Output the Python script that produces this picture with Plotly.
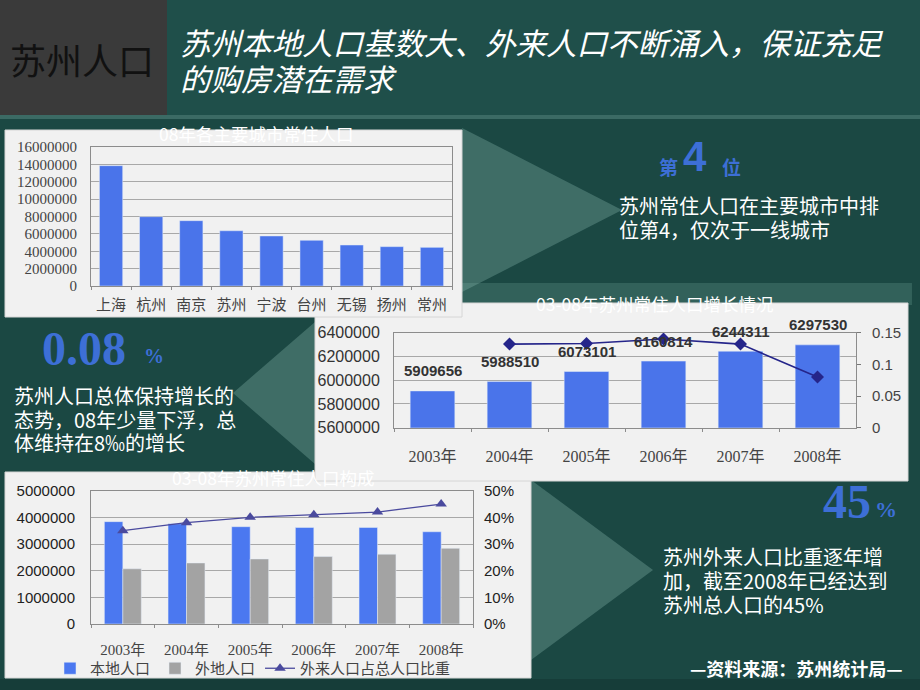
import plotly.graph_objects as go

# ---------------- data ----------------
cities = ['上海', '杭州', '南京', '苏州', '宁波', '台州', '无锡', '扬州', '常州']
city_pop = [13850000, 7980000, 7520000, 6360000, 5760000, 5260000, 4720000, 4530000, 4450000]

years = ['2003年', '2004年', '2005年', '2006年', '2007年', '2008年']
total_pop = [5909656, 5988510, 6073101, 6160814, 6244311, 6297530]
growth_years = ['2004年', '2005年', '2006年', '2007年', '2008年']
growth_rate = [0.132, 0.133, 0.140, 0.132, 0.080]

local_pop = [3840000, 3760000, 3650000, 3620000, 3620000, 3460000]
migrant_pop = [2070000, 2290000, 2440000, 2530000, 2620000, 2840000]
migrant_share = [0.35, 0.38, 0.40, 0.41, 0.42, 0.45]

W, H = 920, 690
def X(p):
    return p / W
def Y(p):
    return 1 - p / H

BG = '#1b4843'
HEAD = '#1f4f4a'
BOX = '#f1f1f1'
BLUE = '#4a74ea'
GREY = '#a3a3a3'
HL = '#3d6fd6'
SERIF = 'Liberation Serif, Noto Sans CJK SC'
SANS = 'Liberation Sans, Noto Sans CJK SC'
CJK = 'Noto Sans CJK SC'

fig = go.Figure()

# chart 1
fig.add_trace(go.Bar(x=cities, y=city_pop, marker_color=BLUE, showlegend=False,
                     xaxis='x', yaxis='y'))
# chart 2
fig.add_trace(go.Bar(x=years, y=total_pop, marker_color=BLUE, showlegend=False,
                     xaxis='x2', yaxis='y2'))
fig.add_trace(go.Scatter(x=growth_years, y=growth_rate, mode='lines+markers',
                         line=dict(color='#25258a', width=1.6),
                         marker=dict(symbol='diamond', size=10, color='#25258a'),
                         showlegend=False, xaxis='x2', yaxis='y3'))
# chart 3
fig.add_trace(go.Bar(x=years, y=local_pop, name='本地人口', marker_color='#4b78f0',
                     xaxis='x3', yaxis='y4'))
fig.add_trace(go.Bar(x=years, y=migrant_pop, name='外地人口', marker_color=GREY,
                     xaxis='x3', yaxis='y4'))
fig.add_trace(go.Scatter(x=years, y=migrant_share, name='外来人口占总人口比重',
                         mode='lines+markers',
                         line=dict(color='#4a4a9e', width=1.3),
                         marker=dict(symbol='triangle-up', size=10, color='#4a4a9e'),
                         xaxis='x3', yaxis='y5'))

# data labels for chart 2
annotations = []
for yr, v in zip(years, total_pop):
    annotations.append(dict(x=yr, y=v, xref='x2', yref='y2', text=str(v), showarrow=False,
                            yshift=20, font=dict(family=SANS, size=15, color='#333333', weight='bold')))

grid = '#a8a8a8'
frame = '#8c8c8c'

def xcat(domain, anchor, size, fam, standoff):
    return dict(domain=domain, anchor=anchor, type='category', showgrid=False,
                showline=True, mirror=True, linecolor=frame, linewidth=1,
                ticks='outside', tickson='boundaries', ticklen=3, tickcolor=frame,
                tickfont=dict(family=fam, size=size, color='#444444'),
                ticklabelstandoff=standoff, fixedrange=True)

def yax(domain, anchor, rng, dtick, fam, size, standoff, color='#333333', fmt='d', weight='normal'):
    return dict(domain=domain, anchor=anchor, range=rng, dtick=dtick, tickformat=fmt,
                showgrid=True, gridcolor=grid, gridwidth=1,
                showline=True, mirror=True, linecolor=frame, linewidth=1,
                ticks='', zeroline=False,
                tickfont=dict(family=fam, size=size, color=color, weight=weight),
                ticklabelstandoff=standoff, fixedrange=True)

layout = dict(
    width=W, height=H, margin=dict(l=0, r=0, t=0, b=0, autoexpand=False),
    paper_bgcolor=BG, plot_bgcolor=BOX,
    barmode='group', bargap=0.42, bargroupgap=0.0,
    xaxis=xcat([X(91), X(452)], 'y', 15, SERIF, 5),
    yaxis=yax([Y(286), Y(147)], 'x', [0, 16000000], 2000000, SERIF, 15, 10, '#444444'),
    xaxis2=xcat([X(394), X(856)], 'y2', 16, SERIF, 14),
    yaxis2=yax([Y(427.7), Y(332.7)], 'x2', [5600000, 6400000], 200000, SANS, 16, 10, '#333333'),
    yaxis3=dict(overlaying='y2', anchor='x2', side='right', range=[0, 0.15], dtick=0.05,
                showgrid=False, zeroline=False, showline=False, ticks='outside', ticklen=4,
                tickcolor='#777777',
                tickfont=dict(family=SANS, size=15, color='#444444'),
                ticklabelstandoff=8, fixedrange=True),
    xaxis3=xcat([X(91), X(473)], 'y4', 15, SERIF, 12),
    yaxis4=yax([Y(624), Y(490.7)], 'x3', [0, 5000000], 1000000, SANS, 15, 12, '#222222'),
    yaxis5=dict(overlaying='y4', anchor='x3', side='right', range=[0, 0.5], dtick=0.1,
                tickformat='.0%', showgrid=False, zeroline=False, showline=False, ticks='',
                tickfont=dict(family=SANS, size=15, color='#222222'),
                ticklabelstandoff=10, fixedrange=True),
    legend=dict(orientation='h', x=X(50), y=Y(652), xanchor='left', yanchor='top',
                bgcolor='rgba(0,0,0,0)', font=dict(family=CJK, size=15, color='#444444'),
                itemwidth=30, traceorder='normal'),
    showlegend=True,
)
fig.update_layout(**layout)

def rect(x0, y0, x1, y1, color, line=None):
    return dict(type='rect', xref='paper', yref='paper', x0=X(x0), x1=X(x1), y0=Y(y1), y1=Y(y0),
                fillcolor=color, line=dict(width=0) if line is None else dict(color=line, width=1),
                layer='below')

def poly(pts, color):
    path = 'M ' + ' L '.join(f'{X(a):.5f},{Y(b):.5f}' for a, b in pts) + ' Z'
    return dict(type='path', xref='paper', yref='paper', path=path, fillcolor=color,
                line=dict(width=0), layer='below')

shapes = [
    rect(167, 0, 920, 115, HEAD),
    rect(0, 0, 167, 115, '#3a3a3a'),
    rect(0, 115, 920, 119, '#3b6a64'),
    poly([(440, 283), (912, 283), (912, 305), (430, 305)], 'rgba(120,170,160,0.25)'),
    poly([(462, 128), (622, 210), (462, 292)], 'rgba(150,195,185,0.30)'),
    poly([(315, 322), (233, 393), (315, 464)], 'rgba(150,195,185,0.30)'),
    poly([(531, 480), (653, 570), (531, 660)], 'rgba(150,195,185,0.30)'),
    rect(5, 472, 531, 678, BOX, '#d6d6d6'),
    rect(315, 303, 908, 481, BOX, '#d6d6d6'),
    rect(5, 130, 462, 317, BOX, '#d6d6d6'),
    rect(0, 679, 920, 690, '#163d39'),
]
fig.update_layout(shapes=shapes)

def txt(x, y, s, size, color='white', fam=CJK, xanchor='left', weight='normal', style='normal'):
    annotations.append(dict(x=X(x), y=Y(y), xref='paper', yref='paper', text=s, showarrow=False,
                            xanchor=xanchor, yanchor='middle',
                            font=dict(family=fam, size=size, color=color, weight=weight, style=style)))

# header
txt(82, 59, '苏州人口', 36, '#111111', xanchor='center')
txt(178, 42, '苏州本地人口基数大、外来人口不断涌入，保证充足', 30.5, style='italic')
txt(178, 78, '的购房潜在需求', 30.5, style='italic')

# chart titles (partly hidden behind the boxes)
txt(256, 133, '08年各主要城市常住人口', 17.5, xanchor='center')
txt(654, 303, '03-08年苏州常住人口增长情况', 17.5, xanchor='center')
txt(273, 477, '03-08年苏州常住人口构成', 17.5, xanchor='center')

# highlight 1
txt(668, 166, '第', 19, HL, xanchor='center', weight='bold')
txt(695, 157, '4', 42, HL, fam='Liberation Sans', xanchor='center', weight='bold')
txt(731, 166, '位', 19, HL, xanchor='center', weight='bold')
txt(617, 205, '苏州常住人口在主要城市中排', 20)
txt(617, 229, '位第4，仅次于一线城市', 20)

# highlight 2
txt(40, 348, '0.08', 48, HL, fam='Liberation Serif', weight='bold')
txt(142, 356, '%', 20, HL, fam='Liberation Serif', weight='bold')
txt(12, 395, '苏州人口总体保持增长的', 20)
txt(12, 419, '态势，08年少量下浮，总', 20)
txt(12, 442, '体维持在8‰的增长', 20)

# highlight 3
txt(821, 502, '45', 48, HL, fam='Liberation Serif', weight='bold')
txt(873, 510, '%', 22, HL, fam='Liberation Serif', weight='bold')
txt(661, 556, '苏州外来人口比重逐年增', 20)
txt(661, 580, '加，截至2008年已经达到', 20)
txt(661, 604, '苏州总人口的45%', 20)

txt(905, 668, '—资料来源：苏州统计局—', 18, xanchor='right', weight='bold')

fig.update_layout(annotations=annotations)

fig.write_html('out.html', config={'displayModeBar': False},
               post_script="document.body.style.margin='0';document.body.style.overflow='hidden';")
